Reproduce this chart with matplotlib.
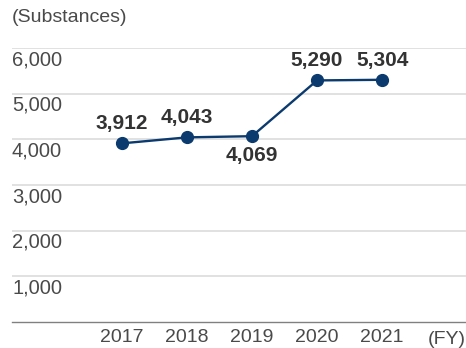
import matplotlib.pyplot as plt
from matplotlib import transforms

plt.rcParams['font.family'] = ['Liberation Sans', 'DejaVu Sans']

# data
years = [2017, 2018, 2019, 2020, 2021]
substances = [3912, 4043, 4069, 5290, 5304]
value_labels = ["3,912", "4,043", "4,069", "5,290", "5,304"]
label_side = [1, 1, -1, 1, 1]   # 1 = above point, -1 = below
y_ticks = [1000, 2000, 3000, 4000, 5000, 6000]
y_tick_labels = ["1,000", "2,000", "3,000", "4,000", "5,000", "6,000"]

fig = plt.figure(figsize=(4.66, 3.48), dpi=100)
ax = fig.add_axes([12/466, 1 - 322/348, 454/466, (322 - 48)/348])

ax.plot(years, substances, color="#0b3a6e", lw=1.7, marker="o", ms=8.5, zorder=3)

ax.set_ylim(0, 6000)
ax.set_xlim(2015.31, 2022.29)

for s in ["top", "right", "left"]:
    ax.spines[s].set_visible(False)
ax.spines["bottom"].set_color("#808080")
ax.spines["bottom"].set_linewidth(1.0)

for v in y_ticks:
    ax.axhline(v, color="#dcdcdc", lw=1.2, zorder=0)

# y labels sit just under their gridline at the left edge
trans = transforms.blended_transform_factory(ax.transAxes, ax.transData)
for v, lab in zip(y_ticks, y_tick_labels):
    ax.annotate(lab, (0, v), xycoords=trans, xytext=(0, -8.5), textcoords="offset points",
                ha="left", va="center", fontsize=14.5, color="#4a4a4a")
ax.set_yticks([])

ax.set_xticks(years)
ax.set_xticklabels([str(y) for y in years], fontsize=14, color="#4a4a4a")
ax.tick_params(axis="x", length=0, pad=5)

fig.text(447/466, 1 - 339/348, "(FY)", ha="center", va="center", fontsize=14, color="#4a4a4a")
fig.text(12/466, 1 - 18/348, "(Substances)", ha="left", va="center", fontsize=14, color="#4a4a4a")

for x, y, lab, side in zip(years, substances, value_labels, label_side):
    ax.annotate(lab, (x, y), xytext=(0, 14 * side), textcoords="offset points",
                ha="center", va="center", fontsize=15, fontweight="bold", color="#333333")

fig.savefig("out.png", dpi=100)
